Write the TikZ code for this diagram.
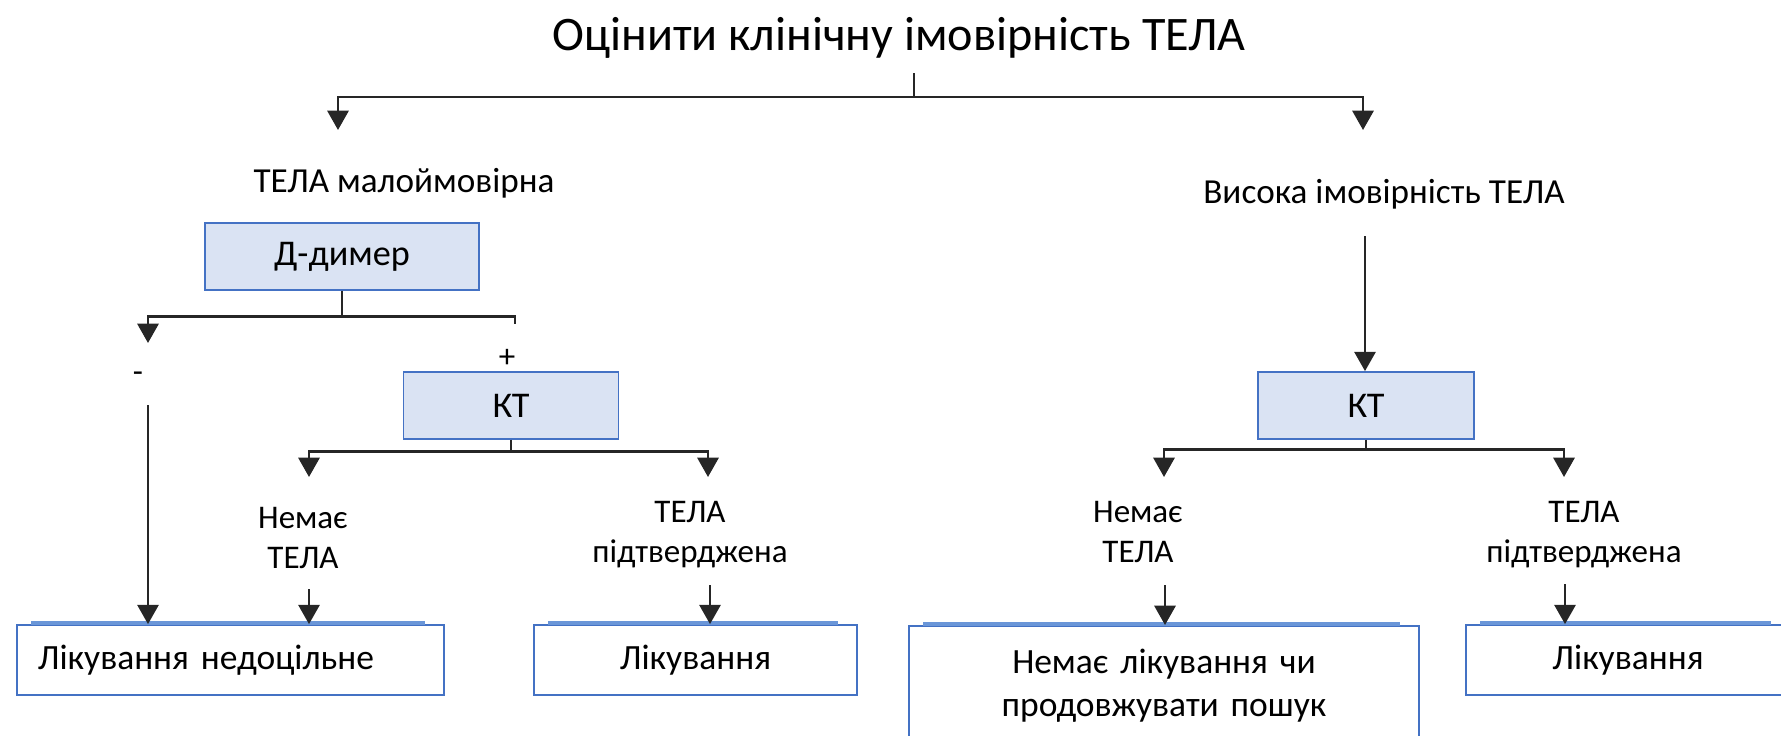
\documentclass[tikz,border=0pt]{standalone}
\usepackage{fontspec}
\setmainfont{Carlito}
\usetikzlibrary{arrows.meta}
\definecolor{boxfill}{HTML}{DAE3F3}
\definecolor{boxline}{HTML}{4472C4}
\definecolor{topline}{HTML}{6A96D8}

\begin{document}
\begin{tikzpicture}[
	testbox/.style={draw=boxline, fill=boxfill, line width=0.5pt, minimum height=0.67cm, inner sep=0pt, font=\fontsize{10.3}{12}\selectfont},
	resbox/.style={draw=boxline, line width=0.5pt, minimum height=0.70cm, inner sep=0pt, font=\fontsize{10.1}{12.2}\selectfont},
	branch/.style={align=center, inner sep=0pt, font=\fontsize{9.4}{11.4}\selectfont},
	wire/.style={draw=black!85, line width=0.8pt},
	arr/.style={wire, -{Triangle[width=6pt,length=5.5pt]}}
	]
	
	\useasboundingbox (0,0) rectangle (17.81,-7.35);
	
	% title and the two probabilities
	\node [anchor=base, font=\fontsize{13.7}{16}\selectfont] (title) at (8.99,-0.50) {Оцінити клінічну імовірність ТЕЛА};
	\node [anchor=base, font=\fontsize{10}{12}\selectfont] (low) at (4.04,-1.92) {ТЕЛА малоймовірна};
	\node [anchor=base, font=\fontsize{10}{12}\selectfont] (high) at (13.84,-2.03) {Висока імовірність ТЕЛА};
	
	\coordinate (titlefoot) at (9.14,-0.73);
	\coordinate (lowtip) at (3.38,-1.30);
	\coordinate (hightip) at (13.63,-1.30);
	
	\draw [arr] (titlefoot) -- ++(0,-0.24) -| (lowtip);
	\draw [arr] (titlefoot) -- ++(0,-0.24) -| (hightip);
	
	% tests
	\node [testbox, minimum width=2.74cm] (ddimer) at (3.42,-2.565) {Д-димер};
	\node [testbox, minimum width=2.15cm] (ctlow) at (5.11,-4.055) {КТ};
	\node [testbox, minimum width=2.16cm] (cthigh) at (13.66,-4.055) {КТ};
	
	% D-dimer outcomes
	\node [branch] (minus) at (1.38,-3.77) {-};
	\node [branch] (plus) at (5.07,-3.58) {+};
	
	\coordinate (minustip) at (1.48,-3.43);
	\coordinate (plusend) at (5.15,-3.24);
	\coordinate (minusgo) at (1.48,-4.05);
	
	\draw [arr] (ddimer.south) -- ++(0,-0.26) -| (minustip);
	\draw [wire] (ddimer.south) -- ++(0,-0.26) -| (plusend);
	
	% CT outcomes
	\node [branch] (lownope) at (3.03,-5.38) {Немає\\ТЕЛА};
	\node [branch] (lowyespe) at (6.90,-5.35) {ТЕЛА\\підтверджена};
	\node [branch] (highnope) at (11.38,-5.32) {Немає\\ТЕЛА};
	\node [branch] (highyespe) at (15.84,-5.35) {ТЕЛА\\підтверджена};
	
	\coordinate (lownotip) at (3.09,-4.77);
	\coordinate (lowyestip) at (7.08,-4.77);
	\coordinate (highnotip) at (11.64,-4.77);
	\coordinate (highyestip) at (15.64,-4.77);
	
	\draw [arr] (ctlow.south) -- ++(0,-0.12) -| (lownotip);
	\draw [arr] (ctlow.south) -- ++(0,-0.12) -| (lowyestip);
	\draw [arr] (cthigh.south) -- ++(0,-0.10) -| (highnotip);
	\draw [arr] (cthigh.south) -- ++(0,-0.10) -| (highyestip);
	
	% results
	\node [resbox, anchor=west, text width=3.85cm, inner xsep=0.21cm, align=left] (lownot) at (0.16,-6.60) {Лікування недоцільне};
	\node [resbox, minimum width=3.23cm] (lowtreat) at (6.955,-6.60) {Лікування};
	\node [resbox, anchor=north, minimum height=1.2cm, text width=5.10cm, align=center] (highnone) at (11.64,-6.25) {Немає лікування чи\\продовжувати пошук};
	\node [resbox, minimum width=3.24cm] (hightreat) at (16.28,-6.60) {Лікування};
	
	\foreach \b in {lownot,lowtreat,highnone,hightreat}
		\draw [topline, line width=1pt] ([xshift=0.15cm,yshift=0.012cm]\b.north west) -- ([xshift=-0.2cm,yshift=0.012cm]\b.north east);
	
	\coordinate (lownostart) at (3.09,-5.89);
	\coordinate (lowyesstart) at (7.10,-5.85);
	\coordinate (highnostart) at (11.65,-5.85);
	\coordinate (highyesstart) at (15.65,-5.84);
	\coordinate (highgo) at (13.65,-2.36);
	
	\draw [arr] (minusgo) -- (minusgo |- lownot.north);
	\draw [arr] (lownostart) -- (lownostart |- lownot.north);
	\draw [arr] (lowyesstart) -- (lowyesstart |- lowtreat.north);
	\draw [arr] (highnostart) -- (highnostart |- highnone.north);
	\draw [arr] (highyesstart) -- (highyesstart |- hightreat.north);
	\draw [arr] (highgo) -- (highgo |- cthigh.north);
	
\end{tikzpicture}
\end{document}
